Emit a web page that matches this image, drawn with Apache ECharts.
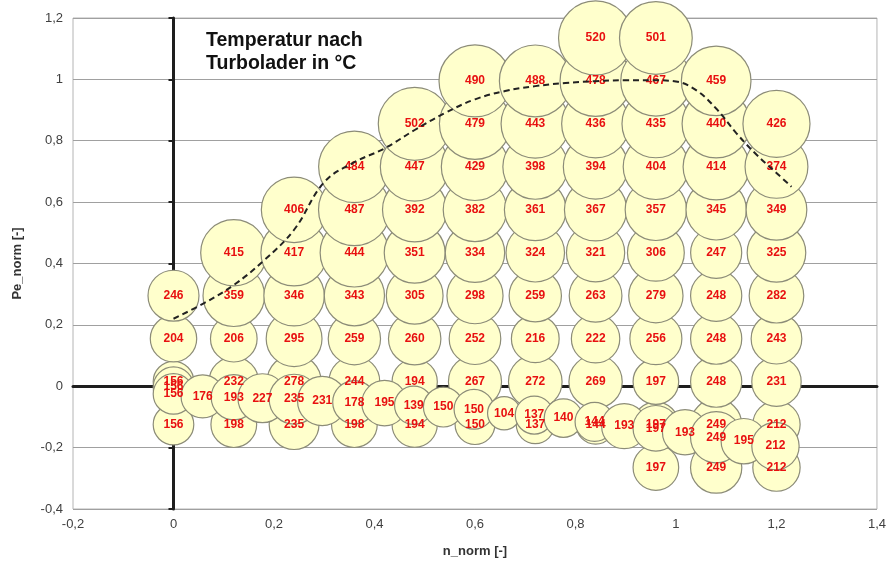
<!DOCTYPE html>
<html><head><meta charset="utf-8">
<script src="https://cdn.jsdelivr.net/npm/echarts@6/dist/echarts.min.js"></script>
<style>html,body{margin:0;padding:0;background:#fff}#c{width:889px;height:565px}</style>
</head><body><div id="c"></div>
<script>
// Bubble data: n_norm (x), Pe_norm (y), temperature after turbocharger (label / size)
const nNorm = [
  0, 0, 0, 0,
  0.12, 0.12, 0.12, 0.12, 0.12,
  0.24, 0.24, 0.24, 0.24, 0.24, 0.24,
  0.36, 0.36, 0.36, 0.36, 0.36, 0.36, 0.36,
  0.48, 0.48, 0.48, 0.48, 0.48, 0.48, 0.48, 0.48,
  0.6, 0.6, 0.6, 0.6, 0.6, 0.6, 0.6, 0.6, 0.6,
  0.72, 0.72, 0.72, 0.72, 0.72, 0.72, 0.72, 0.72, 0.72,
  0.84, 0.84, 0.84, 0.84, 0.84, 0.84, 0.84, 0.84, 0.84, 0.84,
  0.96, 0.96, 0.96, 0.96, 0.96, 0.96, 0.96, 0.96, 0.96, 0.96, 0.96,
  1.08, 1.08, 1.08, 1.08, 1.08, 1.08, 1.08, 1.08, 1.08, 1.08,
  1.2, 1.2, 1.2, 1.2, 1.2, 1.2, 1.2, 1.2, 1.2,
  0, 0, 0.058, 0.12, 0.177, 0.24, 0.296, 0.36, 0.42, 0.478, 0.537, 0.598,
  0.658, 0.718, 0.776, 0.838, 0.897, 0.96, 1.018, 1.08, 1.135, 1.198
];
const peNorm = [
  -0.125, 0.015, 0.155, 0.295,
  -0.125, 0.015, 0.155, 0.295, 0.435,
  -0.125, 0.015, 0.155, 0.295, 0.435, 0.575,
  -0.125, 0.015, 0.155, 0.295, 0.435, 0.575, 0.715,
  -0.125, 0.015, 0.155, 0.295, 0.435, 0.575, 0.715, 0.855,
  -0.125, 0.015, 0.155, 0.295, 0.435, 0.575, 0.715, 0.855, 0.995,
  -0.125, 0.015, 0.155, 0.295, 0.435, 0.575, 0.715, 0.855, 0.995,
  -0.125, 0.015, 0.155, 0.295, 0.435, 0.575, 0.715, 0.855, 0.995, 1.135,
  -0.265, -0.125, 0.015, 0.155, 0.295, 0.435, 0.575, 0.715, 0.855, 0.995, 1.135,
  -0.265, -0.125, 0.015, 0.155, 0.295, 0.435, 0.575, 0.715, 0.855, 0.995,
  -0.265, -0.125, 0.015, 0.155, 0.295, 0.435, 0.575, 0.715, 0.855,
  -0.003, -0.025, -0.033, -0.036, -0.039, -0.042, -0.048, -0.052, -0.055, -0.062, -0.068, -0.075,
  -0.088, -0.094, -0.104, -0.116, -0.13, -0.137, -0.15, -0.166, -0.179, -0.195
];
const tempC = [
  156, 156, 204, 246,
  198, 232, 206, 359, 415,
  235, 278, 295, 346, 417, 406,
  198, 244, 259, 343, 444, 487, 484,
  194, 194, 260, 305, 351, 392, 447, 502,
  150, 267, 252, 298, 334, 382, 429, 479, 490,
  137, 272, 216, 259, 324, 361, 398, 443, 488,
  144, 269, 222, 263, 321, 367, 394, 436, 478, 520,
  197, 197, 197, 256, 279, 306, 357, 404, 435, 467, 501,
  249, 249, 248, 248, 248, 247, 345, 414, 440, 459,
  212, 212, 231, 243, 282, 325, 349, 374, 426,
  156, 156, 176, 193, 227, 235, 231, 178, 195, 139, 150, 150,
  104, 137, 140, 144, 193, 197, 193, 249, 195, 212
];
// Full-load curve (dashed)
const curveN  = [0, 0.06, 0.12, 0.18, 0.24, 0.3, 0.36, 0.42, 0.48, 0.54, 0.6, 0.66, 0.72, 0.78, 0.84, 0.9, 0.96, 1.0, 1.04, 1.08, 1.12, 1.16, 1.2, 1.23];
const curvePe = [0.22, 0.27, 0.33, 0.41, 0.51, 0.665, 0.73, 0.775, 0.835, 0.89, 0.935, 0.962, 0.978, 0.988, 0.994, 0.997, 0.997, 0.993, 0.965, 0.905, 0.825, 0.755, 0.695, 0.65];
const titleLines = ['Temperatur nach', 'Turbolader in °C'];

const chart = echarts.init(document.getElementById('c'), null, {renderer: 'canvas'});
const fmt = v => String(Math.round(v * 10) / 10).replace('.', ',');
const bubbles = nNorm.map((x, i) => [x, peNorm[i], tempC[i]]);
const curve = curveN.map((x, i) => [x, curvePe[i]]);
const FONT = 'Liberation Sans, Arial, sans-serif';

chart.setOption({
  animation: false,
  grid: {left: 73, right: 11, top: 18, bottom: 56, show: true, borderColor: '#b4b4b4', borderWidth: 1},
  xAxis: [{
    type: 'value', min: -0.2, max: 1.4, interval: 0.2, position: 'bottom',
    axisLine: {show: false, onZero: false}, axisTick: {show: false}, splitLine: {show: false},
    axisLabel: {formatter: fmt, color: '#404040', fontSize: 13, fontFamily: FONT, margin: 9},
    name: 'n_norm [-]', nameLocation: 'middle', nameGap: 36,
    nameTextStyle: {fontWeight: 'bold', fontSize: 13, color: '#333', fontFamily: FONT}
  }, {
    type: 'value', min: -0.2, max: 1.4, interval: 0.2, position: 'bottom',
    axisLine: {show: true, onZero: true, onZeroAxisIndex: 0, lineStyle: {color: '#1e1e1e', width: 3}},
    axisTick: {show: false}, axisLabel: {show: false}, splitLine: {show: false}
  }],
  yAxis: [{
    type: 'value', min: -0.4, max: 1.2, interval: 0.2, position: 'left',
    axisLine: {show: false, onZero: false}, axisTick: {show: false},
    splitLine: {show: true, lineStyle: {color: '#a0a0a0', width: 1}},
    axisLabel: {formatter: fmt, color: '#404040', fontSize: 13, fontFamily: FONT, margin: 10},
    name: 'Pe_norm [-]', nameLocation: 'middle', nameGap: 49,
    nameTextStyle: {fontWeight: 'bold', fontSize: 13, color: '#333', fontFamily: FONT}
  }, {
    type: 'value', min: -0.4, max: 1.2, interval: 0.2, position: 'left',
    axisLine: {show: true, onZero: true, onZeroAxisIndex: 0, lineStyle: {color: '#1e1e1e', width: 3}},
    axisTick: {show: true, length: 5, lineStyle: {color: '#1e1e1e', width: 2}},
    axisLabel: {show: false}, splitLine: {show: false}
  }],
  graphic: [{
    type: 'text', left: 206, top: 29, z: 100,
    style: {text: titleLines.join('\n'), font: 'bold 19.5px ' + FONT, fill: '#111', lineHeight: 23}
  }],
  series: [{
    type: 'scatter', xAxisIndex: 0, yAxisIndex: 0, z: 3,
    data: bubbles,
    symbolSize: d => 3.25 * Math.sqrt(d[2]),
    itemStyle: {color: '#ffffcc', borderColor: '#8c8c78', borderWidth: 1.2, opacity: 1},
    label: {show: true, position: 'inside', formatter: p => p.data[2], color: '#e81010',
      fontSize: 12, fontWeight: 'bold', fontFamily: FONT},
    emphasis: {disabled: true}
  }, {
    type: 'line', xAxisIndex: 0, yAxisIndex: 0, z: 5,
    data: curve, smooth: 0.4, showSymbol: false, symbol: 'none',
    lineStyle: {color: '#222', width: 2, type: [6, 4]},
    emphasis: {disabled: true}
  }]
});
</script></body></html>
